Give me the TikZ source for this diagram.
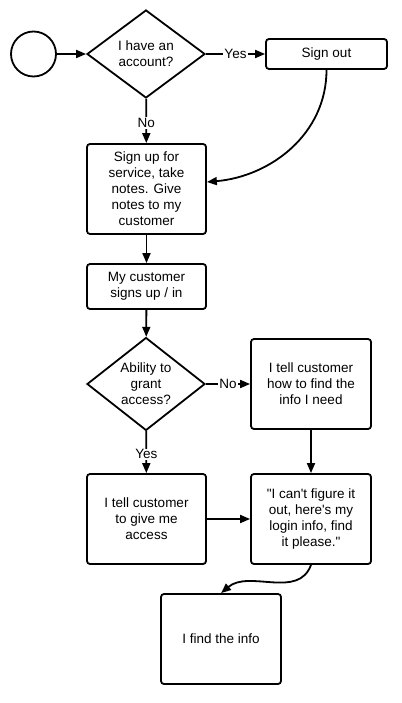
\documentclass[tikz,border=0pt]{standalone}
\usepackage{fontspec}
\setmainfont{Liberation Sans}
\usetikzlibrary{shapes.geometric,arrows.meta,positioning}

\begin{document}
\begin{tikzpicture}[x=1pt, y=-1pt, line width=1.8pt,
  font=\fontsize{13.5}{16}\selectfont,
  box/.style={draw, rounded corners=3pt, align=center, inner sep=0pt, minimum width=119pt, minimum height=90pt},
  choice/.style={draw, diamond, align=center, inner sep=0pt, minimum width=118pt, minimum height=88pt},
  flow/.style={-{Triangle[length=10pt,width=8pt]}},
  lbl/.style={fill=white, inner sep=1pt}]
\useasboundingbox (0,0) rectangle (401,703);

\node [draw, circle, minimum size=45pt, inner sep=0pt] (start) at (33.5,54) {};
\node [choice] (account) at (146,54) {I have an\\account?};
\node [box, minimum width=121pt, minimum height=30pt] (signout) at (326.5,54) {Sign out};
\node [box] (signup) at (146.5,189) {Sign up for\\service, take\\notes. Give\\notes to my\\customer};
\node [box, minimum height=45pt] (custsign) at (146.5,286.5) {My customer\\signs up / in};
\node [choice] (ability) at (146,384) {Ability to\\grant\\access?};
\node [box, minimum width=120pt] (howto) at (311,384) {I tell customer\\how to find the\\info I need};
\node [box] (giveaccess) at (146.5,519) {I tell customer\\to give me\\access};
\node [box, minimum width=120pt] (loginfo) at (311,519) {\textquotedbl I can\textquotesingle t figure it\\out, here\textquotesingle s my\\login info, find\\it please.\textquotedbl};
\node [box, minimum width=120pt] (findinfo) at (221,639) {I find the info};

% connectors
\draw [flow] (start) -- (account);
\draw [flow] (account) -- node[lbl] {Yes} (signout);
\draw [flow] (account) -- node[lbl, pos=0.55] {No} (signup);
\draw [flow] (signout.south) to[out=-90, in=5] ([yshift=7pt]signup.east);
\draw [flow] (signup) -- (custsign);
\draw [flow] (custsign) -- (ability);
\draw [flow] (ability) -- node[lbl] {No} (howto);
\draw [flow] (ability) -- node[lbl, pos=0.55] {Yes} (giveaccess);
\draw [flow] (howto) -- (loginfo);
\draw [flow] (giveaccess) -- (loginfo);
\draw [flow] (loginfo.south) to[out=-110, in=40] (findinfo.north);
\end{tikzpicture}
\end{document}
